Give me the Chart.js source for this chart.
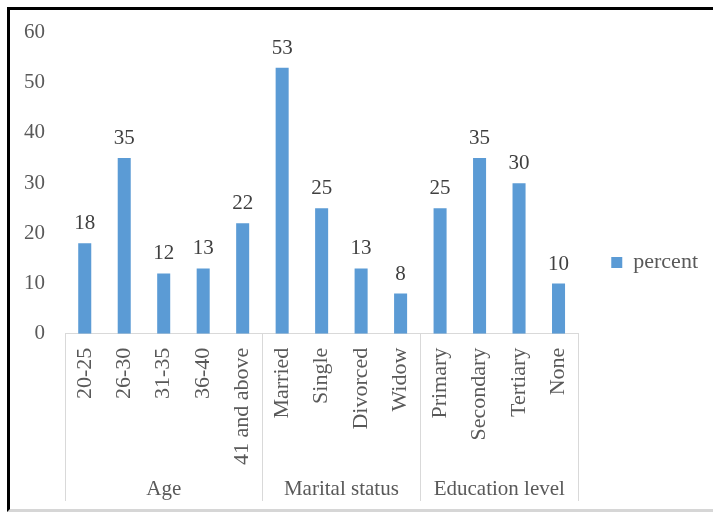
<!DOCTYPE html>
<html>
<head>
<meta charset="utf-8">
<script src="https://cdn.jsdelivr.net/npm/chart.js@4"></script>
<style>
    html, body { margin: 0; padding: 0; background: #fff; }
    #wrap { position: relative; width: 713px; height: 512px; }
    #frame {
        position: absolute; left: 7px; top: 7px; right: 0; bottom: 0;
        border-left: 3px solid #000; border-top: 3px solid #000;
        border-bottom: 3px solid #d6d6d6;
        pointer-events: none;
    }
</style>
</head>
<body>
<div id="wrap">
    <canvas id="chart" width="713" height="512"></canvas>
    <div id="frame"></div>
</div>
<script>
const categories = ['20-25', '26-30', '31-35', '36-40', '41 and above',
    'Married', 'Single', 'Divorced', 'Widow',
    'Primary', 'Secondary', 'Tertiary', 'None'];
const percent = [18, 35, 12, 13, 22, 53, 25, 13, 8, 25, 35, 30, 10];
const groupNames = ['Age', 'Marital status', 'Education level'];
const groupSizes = [5, 4, 4];
const yTicks = [0, 10, 20, 30, 40, 50, 60];

const serif = '"Liberation Serif", "Times New Roman", serif';
const axisGrey = '#595959';
const lineGrey = '#d9d9d9';

// value labels above each bar
const barLabels = {
    id: 'barLabels',
    afterDatasetsDraw(chart) {
        const ctx = chart.ctx;
        const meta = chart.getDatasetMeta(0);
        ctx.save();
        ctx.font = '21px ' + serif;
        ctx.fillStyle = '#404040';
        ctx.textAlign = 'center';
        ctx.textBaseline = 'alphabetic';
        meta.data.forEach((bar, i) => {
            ctx.fillText(String(percent[i]), bar.x, bar.y - 14);
        });
        ctx.restore();
    }
};

// second level of the category axis: group separators and group names
const groupAxis = {
    id: 'groupAxis',
    afterDraw(chart) {
        const ctx = chart.ctx;
        const x = chart.scales.x;
        const step = x.width / categories.length;
        const bottom = 501;
        ctx.save();
        ctx.strokeStyle = lineGrey;
        ctx.lineWidth = 1;
        ctx.font = '21px ' + serif;
        ctx.fillStyle = axisGrey;
        ctx.textAlign = 'center';
        ctx.textBaseline = 'alphabetic';
        let start = 0;
        const edges = [start];
        groupSizes.forEach((size, g) => {
            const left = x.left + start * step;
            const right = x.left + (start + size) * step;
            ctx.fillText(groupNames[g], (left + right) / 2, 495);
            start += size;
            edges.push(start);
        });
        edges.forEach(idx => {
            const px = Math.round(x.left + idx * step) + 0.5;
            ctx.beginPath();
            ctx.moveTo(px, x.top);
            ctx.lineTo(px, bottom);
            ctx.stroke();
        });
        ctx.restore();
    }
};

new Chart(document.getElementById('chart').getContext('2d'), {
    type: 'bar',
    data: {
        labels: categories,
        datasets: [{
            label: 'percent',
            data: percent,
            backgroundColor: '#5b9bd5',
            borderWidth: 0,
            categoryPercentage: 1,
            barPercentage: 0.33
        }]
    },
    options: {
        responsive: false,
        animation: false,
        devicePixelRatio: 1,
        layout: {
            padding: { left: 4, top: 28, right: 5, bottom: 33 }
        },
        plugins: {
            legend: {
                position: 'right',
                maxWidth: 135,
                // blank title only pushes the single entry a little lower
                title: {
                    display: true,
                    text: ' ',
                    padding: 4,
                    font: { size: 10, lineHeight: 1 }
                },
                labels: {
                    boxWidth: 11,
                    boxHeight: 11,
                    padding: 33,
                    color: axisGrey,
                    font: { family: serif, size: 22 }
                }
            },
            tooltip: { enabled: false }
        },
        scales: {
            x: {
                grid: { display: false, drawTicks: false },
                border: { display: true, color: lineGrey, width: 1 },
                ticks: {
                    autoSkip: false,
                    maxRotation: 90,
                    minRotation: 90,
                    padding: 14,
                    color: axisGrey,
                    font: { family: serif, size: 22 }
                }
            },
            y: {
                min: 0,
                max: 60,
                afterBuildTicks(scale) {
                    scale.ticks = yTicks.map(v => ({ value: v }));
                },
                grid: { display: false, drawTicks: false },
                border: { display: false },
                ticks: {
                    padding: 20,
                    color: axisGrey,
                    font: { family: serif, size: 21 }
                }
            }
        }
    },
    plugins: [barLabels, groupAxis]
});
</script>
</body>
</html>
